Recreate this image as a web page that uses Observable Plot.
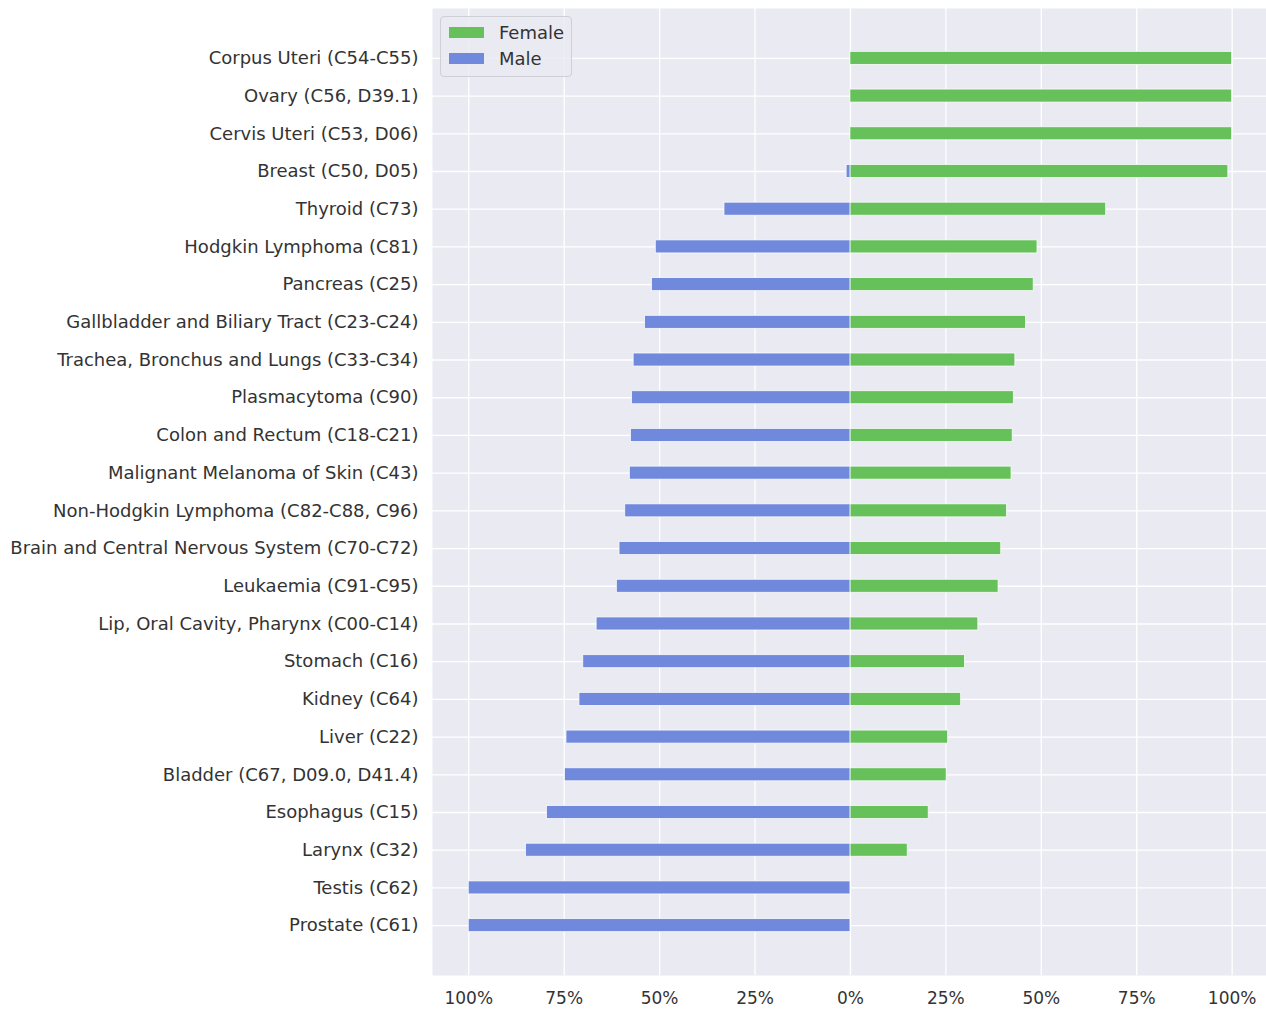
<!DOCTYPE html>
<html>
<head>
<meta charset="utf-8">
<script src="https://cdn.jsdelivr.net/npm/d3@7"></script>
<script src="https://cdn.jsdelivr.net/npm/@observablehq/plot@0.6"></script>
<style>
  html, body { margin: 0; padding: 0; background: #ffffff; }
  #wrap { position: relative; width: 1266px; height: 1009px; font-family: "DejaVu Sans", sans-serif; }
  #legend { position: absolute; left: 440px; top: 16px; width: 130px; height: 59px; background: rgba(234,234,242,0.85);
            border: 1px solid #cfcfd6; border-radius: 4px; box-sizing: content-box; }
  .item { position: absolute; left: 8px; height: 20px; display: flex; align-items: center; font-size: 18px; color: #333333; }
  .sw { width: 35px; height: 11px; margin-right: 15px; }
</style>
</head>
<body>
<div id="wrap">
  <div id="chart"></div>
  <div id="legend"></div>
</div>
<script>
const categories = [
  "Corpus Uteri (C54-C55)",
  "Ovary (C56, D39.1)",
  "Cervis Uteri (C53, D06)",
  "Breast (C50, D05)",
  "Thyroid (C73)",
  "Hodgkin Lymphoma (C81)",
  "Pancreas (C25)",
  "Gallbladder and Biliary Tract (C23-C24)",
  "Trachea, Bronchus and Lungs (C33-C34)",
  "Plasmacytoma (C90)",
  "Colon and Rectum (C18-C21)",
  "Malignant Melanoma of Skin (C43)",
  "Non-Hodgkin Lymphoma (C82-C88, C96)",
  "Brain and Central Nervous System (C70-C72)",
  "Leukaemia (C91-C95)",
  "Lip, Oral Cavity, Pharynx (C00-C14)",
  "Stomach (C16)",
  "Kidney (C64)",
  "Liver (C22)",
  "Bladder (C67, D09.0, D41.4)",
  "Esophagus (C15)",
  "Larynx (C32)",
  "Testis (C62)",
  "Prostate (C61)"
];
// share of cases, percent
const female = [100, 100, 100, 99, 67, 49, 48, 46, 43.2, 42.8, 42.5, 42.2, 41, 39.5, 38.8, 33.5, 30, 29, 25.6, 25.2, 20.5, 15, 0, 0];
const male   = [0, 0, 0, 1, 33, 51, 52, 53.8, 56.8, 57.2, 57.5, 57.8, 59, 60.5, 61.2, 66.5, 70, 71, 74.4, 74.8, 79.5, 85, 100, 100];
const seriesNames = ["Female", "Male"];
const seriesColors = ["#66c15a", "#7189dc"];
const xTicks = [-1, -0.75, -0.5, -0.25, 0, 0.25, 0.5, 0.75, 1];

const rows = [];
categories.forEach((c, i) => {
  rows.push({cat: c, sex: "Female", x1: 0, x2: female[i] / 100});
  rows.push({cat: c, sex: "Male", x1: 0, x2: -male[i] / 100});
});

const chart = Plot.plot({
  width: 1266,
  height: 1009,
  marginLeft: 432,
  marginRight: 0,
  marginTop: 8,
  marginBottom: 34,
  style: {fontFamily: "DejaVu Sans, sans-serif", color: "#333333", background: "#ffffff"},
  x: {domain: [-1.095, 1.09], label: null},
  y: {domain: categories, paddingInner: 0.655, paddingOuter: 1.15, align: 0.5, round: false, label: null},
  color: {domain: seriesNames, range: seriesColors},
  marks: [
    Plot.frame({fill: "#eaeaf2", stroke: null}),
    Plot.gridX({ticks: xTicks, stroke: "white", strokeOpacity: 1, strokeWidth: 1.3}),
    Plot.gridY({stroke: "white", strokeOpacity: 1, strokeWidth: 1.3}),
    Plot.barX(rows, {y: "cat", x1: "x1", x2: "x2", fill: "sex", stroke: "white", strokeWidth: 0.8, strokeOpacity: 0.9}),
    Plot.axisX({ticks: xTicks, tickSize: 0, tickPadding: 16, fontSize: 17, label: null,
                tickFormat: d => Math.round(Math.abs(d) * 100) + "%"}),
    Plot.axisY({tickSize: 0, tickPadding: 14, fontSize: 18, label: null})
  ]
});
document.getElementById("chart").appendChild(chart);

const legend = document.getElementById("legend");
seriesNames.forEach((name, i) => {
  const item = document.createElement("div");
  item.className = "item";
  item.style.top = (5 + i * 26) + "px";
  const sw = document.createElement("div");
  sw.className = "sw";
  sw.style.background = seriesColors[i];
  const t = document.createElement("span");
  t.textContent = name;
  item.appendChild(sw);
  item.appendChild(t);
  legend.appendChild(item);
});
</script>
</body>
</html>
